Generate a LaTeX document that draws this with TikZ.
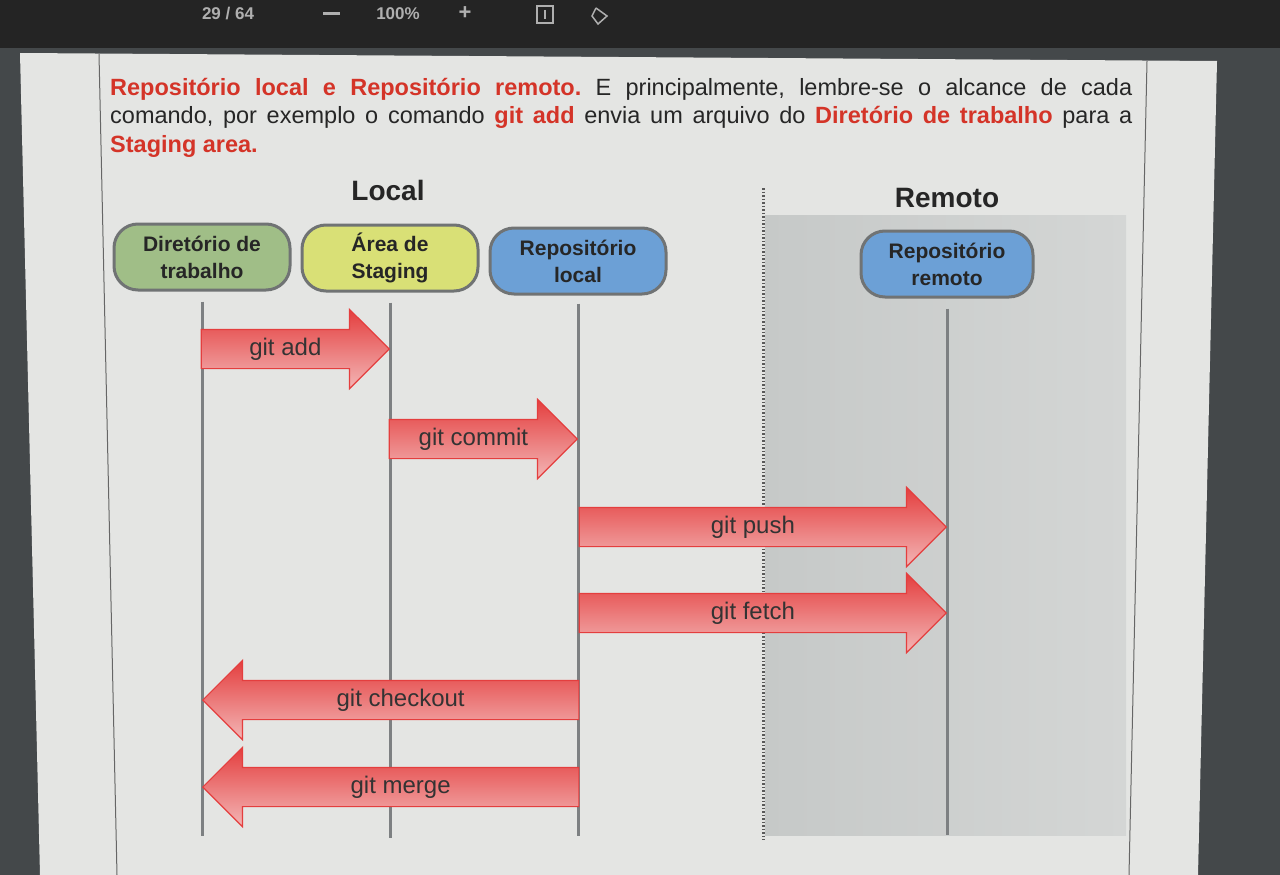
\documentclass[tikz,border=0pt]{standalone}
\usepackage{fontspec}
\setmainfont{Liberation Sans}
\usetikzlibrary{shapes.arrows}

\definecolor{screendark}{RGB}{36,36,36}
\definecolor{screenside}{RGB}{68,72,74}
\definecolor{paper}{RGB}{228,229,227}
\definecolor{panelleft}{RGB}{198,201,200}
\definecolor{panelright}{RGB}{212,214,213}
\definecolor{termred}{RGB}{212,52,40}
\definecolor{dirgreen}{RGB}{160,190,135}
\definecolor{stgyellow}{RGB}{217,224,118}
\definecolor{repblue}{RGB}{108,160,214}
\definecolor{boxline}{RGB}{112,115,116}
\definecolor{lifegray}{RGB}{125,128,130}
\definecolor{arrowred}{RGB}{228,62,62}
\definecolor{arrowpink}{RGB}{243,182,182}
\definecolor{toolgray}{RGB}{175,175,175}

\newcommand{\redterm}[1]{\textcolor{termred}{\textbf{#1}}}
\frenchspacing

\begin{document}
\begin{tikzpicture}[x=1pt, y=-1pt,
    state/.style={rectangle, rounded corners=24pt, draw=boxline, line width=3pt,
        minimum width=176pt, minimum height=66pt, align=center,
        font=\fontsize{21}{27}\selectfont\bfseries, text=black!85},
    heading/.style={font=\fontsize{28}{32}\selectfont\bfseries, text=black!85},
    lifeline/.style={lifegray, line width=3pt},
    sepline/.style={black!65, line width=3pt, dash pattern=on 1.5pt off 2pt},
    cmd/.style={single arrow, single arrow head extend=20pt,
        single arrow tip angle=90, draw=arrowred, line width=1.2pt,
        top color=arrowred, bottom color=arrowpink,
        text height=17pt, text depth=5pt, inner ysep=8pt, inner xsep=0pt,
        font=\fontsize{24}{28}\selectfont, text=black!80},
    para/.style={text width=1022pt, align=justify, inner sep=0pt,
        font=\fontsize{23.5}{28.5}\selectfont, text=black!85},
    tool/.style={text=toolgray, font=\fontsize{17}{20}\selectfont\bfseries}
]
    \useasboundingbox (0,0) rectangle (1280,875);

    % screen and page
    \fill[screenside] (0,0) rectangle (1280,875);
    \fill[screendark] (0,0) rectangle (1280,48);
    \fill[paper] (20,53) -- (1217,61) -- (1198,875) -- (40,875) -- cycle;
    \draw[black!60, line width=1pt] (99,54) -- (117,875);
    \draw[black!60, line width=1pt] (1147,61) -- (1129,875);

    % viewer toolbar
    \node[tool] (page) at (228,14) {29 / 64};
    \draw[toolgray, line width=3pt] (323,14) -- (340,14);
    \node[tool] (zoom) at (398,14) {100\%};
    \node[tool, font=\fontsize{22}{24}\selectfont\bfseries] (plus) at (465,13) {+};
    \draw[toolgray, line width=1.5pt] (537,6) rectangle (553,23);
    \draw[toolgray, line width=1.5pt] (545,10) -- (545,19);
    \draw[toolgray, line width=1.5pt] (596,8) -- (607,16) -- (598,24) -- (592,16) -- (596,8);

    % text above the diagram
    \node[para, anchor=north west] (intro) at (110,78)
        {\redterm{Repositório local} \redterm{e} \redterm{Repositório remoto.}
        E principalmente, lembre-se o alcance de cada\linebreak
        comando, por exemplo o comando \redterm{git add} envia um arquivo do
        \redterm{Diretório de trabalho} para a\linebreak
        \redterm{Staging area.}};

    % remote side
    \fill[left color=panelleft, right color=panelright] (765,215) rectangle (1126,835);
    \draw[sepline] (763,188) -- (763,840);

    \node[heading] (local) at (388,190) {Local};
    \node[heading] (remote) at (947,198) {Remoto};

    \node[state, fill=dirgreen] (dir) at (202,257) {Diretório de\\trabalho};
    \node[state, fill=stgyellow] (stg) at (390,258) {Área de\\Staging};
    \node[state, fill=repblue] (loc) at (578,261) {Repositório\\local};
    \node[state, fill=repblue, minimum width=172pt] (rem) at (947,264)
        {Repositório\\remoto};

    \draw[lifeline] ([yshift=-10pt]dir.south) -- (dir.south |- 0,836);
    \draw[lifeline] ([yshift=-10pt]stg.south) -- (stg.south |- 0,838);
    \draw[lifeline] ([yshift=-8pt]loc.south) -- (loc.south |- 0,836);
    \draw[lifeline] ([yshift=-10pt]rem.south) -- (rem.south |- 0,835);

    \node[cmd, anchor=tip, minimum height=188pt] (add) at (stg.south |- 0,349) {git add};
    \node[cmd, anchor=tip, minimum height=188pt] (commit) at (loc.south |- 0,439) {git commit};
    \node[cmd, anchor=tip, minimum height=367pt] (push) at (rem.south |- 0,527) {git push};
    \node[cmd, anchor=tip, minimum height=367pt] (fetch) at (rem.south |- 0,613) {git fetch};
    \node[cmd, anchor=tip, shape border rotate=180, minimum height=376pt]
        (checkout) at (dir.south |- 0,700) {git checkout};
    \node[cmd, anchor=tip, shape border rotate=180, minimum height=376pt]
        (merge) at (dir.south |- 0,787) {git merge};
\end{tikzpicture}
\end{document}
